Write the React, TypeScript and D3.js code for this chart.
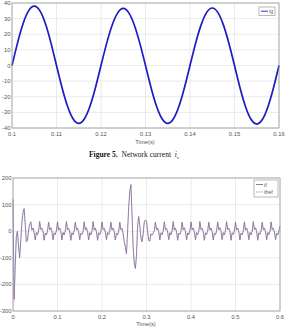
import React from "react";
import * as d3 from "d3";

// ---- Top chart data (network current) ----
const topStart = 0.1;
const topStep = 0.00125;
const igValues = [
  0, 14.5, 26.9, 35.1, 38, 35.1, 26.9, 14.5,
  0, -14.2, -26.2, -34.2, -37, -34.2, -26.2, -14.2,
  0, 14, 25.8, 33.7, 36.5, 33.7, 25.8, 14,
  0, -14.2, -26.2, -34.2, -37, -34.2, -26.2, -14.2,
  0, 14.1, 26, 34, 36.8, 34, 26, 14.1,
  0, -14.4, -26.5, -34.6, -37.5, -34.6, -26.5, -14.4,
  0,
];
const topXTicks = [0.1, 0.11, 0.12, 0.13, 0.14, 0.15, 0.16];
const topYTicks = [-40, -30, -20, -10, 0, 10, 20, 30, 40];

// ---- Bottom chart data (if, ifref) ----
const botStep = 0.0025;
const ifValues = [
  120, -255, -130, -20, 0, -60, -100, -35, 30, 70, 85, 25, -40, -35, 5, 25,
  35, 4, 12, -3, -33, -5, -13, 1,
  36, 6, 11, -2, -34, -7, -14, 0,
  34, 5, 13, -1, -32, -6, -12, 2,
  35, 4, 12, -2, -33, -5, -14, 0,
  36, 6, 11, -3, -34, -6, -13, 1,
  34, 5, 12, -2, -32, -7, -12, 0,
  35, 5, 13, -1, -33, -5, -14, 2,
  36, 4, 12, -2, -34, -6, -13, 0,
  35, 6, 11, -3, -32, -5, -12, 1,
  34, 5, 12, -2, -33, -7, -14, 0,
  34, 5, 10, -10, -40, -60, -85, 0,
  90, 150, 175, 60, -60, -120, -140, -90,
  20, 55, 20, -25, -40, -10, 35, 42,
  38, 0, -35, -37, -10, -15, -8, 2,
  34, 5, 12, -2, -33, -6, -13, 0,
  35, 6, 11, -3, -32, -5, -14, 1,
  36, 4, 12, -2, -34, -7, -12, 0,
  34, 5, 13, -1, -33, -6, -13, 2,
  35, 5, 12, -2, -32, -5, -14, 0,
  36, 6, 11, -3, -34, -6, -12, 1,
  34, 4, 12, -2, -33, -7, -13, 0,
  35, 5, 13, -1, -32, -5, -14, 2,
  36, 6, 12, -2, -34, -6, -12, 0,
  34, 5, 11, -3, -33, -7, -13, 1,
  35, 4, 12, -2, -32, -5, -14, 0,
  36, 6, 13, -1, -34, -6, -12, 2,
  34, 5, 12, -2, -33, -5, -13, 0,
  35, 6, 11, -3, -32, -7, -14, 1,
  20,
];
const ifrefStart = [-200, -270, -120, -20, 0, -50, -80, -20, 50, 70, 80, 25];
const ifrefValues = ifrefStart.concat(ifValues.slice(ifrefStart.length));
const botXTicks = [0, 0.1, 0.2, 0.3, 0.4, 0.5, 0.6];
const botYTicks = [-300, -200, -100, 0, 100, 200];

const tickFont = "'Liberation Sans', Arial, sans-serif";

function fmt(v: number) {
  return String(+v.toFixed(3));
}

export default function App() {
  // Top chart geometry
  const tL = 12, tR = 279, tT = 3, tB = 128;
  const tx = d3.scaleLinear().domain([0.1, 0.16]).range([tL, tR]);
  const ty = d3.scaleLinear().domain([-40, 40]).range([tB, tT]);
  const topLine = d3
    .line<number>()
    .x((_, i) => tx(topStart + i * topStep))
    .y((d) => ty(d))
    .curve(d3.curveNatural);

  // Bottom chart geometry
  const bL = 13, bR = 280, bT = 178, bB = 311;
  const bx = d3.scaleLinear().domain([0, 0.6]).range([bL, bR]);
  const by = d3.scaleLinear().domain([-300, 200]).range([bB, bT]);
  const botLine = d3
    .line<number>()
    .x((_, i) => bx(i * botStep))
    .y((d) => by(d))
    .curve(d3.curveLinear);

  const grid = "#e4e4e4";
  const axisC = "#9a9a9a";
  const labC = "#555";

  return (
    <svg
      width={287}
      height={329}
      style={{ position: "absolute", left: 0, top: 0, background: "#fff" }}
      fontFamily={tickFont}
    >
      {/* ---------- Top chart ---------- */}
      <rect x={tL} y={tT} width={tR - tL} height={tB - tT} fill="#fff" />
      {topXTicks.map((t) => (
        <line key={"tgx" + t} x1={tx(t)} x2={tx(t)} y1={tT} y2={tB} stroke={grid} strokeWidth={0.8} />
      ))}
      {topYTicks.map((t) => (
        <line key={"tgy" + t} x1={tL} x2={tR} y1={ty(t)} y2={ty(t)} stroke={grid} strokeWidth={0.8} />
      ))}
      <path d={topLine(igValues) || ""} fill="none" stroke="#1c1cc4" strokeWidth={1.7} />
      <rect x={tL} y={tT} width={tR - tL} height={tB - tT} fill="none" stroke={axisC} strokeWidth={0.8} />
      {topYTicks.map((t) => (
        <text key={"tyl" + t} x={tL - 1.5} y={ty(t)} dy="0.35em" fontSize={5.8} fill={labC} textAnchor="end">
          {t}
        </text>
      ))}
      {topXTicks.map((t) => (
        <text key={"txl" + t} x={tx(t)} y={tB + 8} fontSize={5.8} fill={labC} textAnchor="middle">
          {fmt(t)}
        </text>
      ))}
      <text x={145} y={144} fontSize={5.8} fill={labC} textAnchor="middle">Time(s)</text>
      {/* top legend */}
      <rect x={259} y={7} width={16} height={8.5} fill="#fff" stroke={axisC} strokeWidth={0.7} />
      <line x1={261} x2={268} y1={11.2} y2={11.2} stroke="#1c1cc4" strokeWidth={0.9} />
      <text x={269} y={13.2} fontSize={5.2} fill={labC}>ig</text>

      {/* ---------- Caption ---------- */}
      <text x={89} y={157} fontFamily="'Liberation Serif', 'Times New Roman', serif" fontSize={7.5} fill="#111">
        <tspan fontWeight="bold">Figure 5.</tspan>
        <tspan dx={4}>Network current </tspan>
        <tspan dx={2} fontStyle="italic">i</tspan>
        <tspan fontSize={4.5} dy={1.8}>s</tspan>
      </text>

      {/* ---------- Bottom chart ---------- */}
      <rect x={bL} y={bT} width={bR - bL} height={bB - bT} fill="#fff" />
      {botXTicks.map((t) => (
        <line key={"bgx" + t} x1={bx(t)} x2={bx(t)} y1={bT} y2={bB} stroke={grid} strokeWidth={0.8} />
      ))}
      {botYTicks.map((t) => (
        <line key={"bgy" + t} x1={bL} x2={bR} y1={by(t)} y2={by(t)} stroke={grid} strokeWidth={0.8} />
      ))}
      <path d={botLine(ifValues) || ""} fill="none" stroke="#6a72a4" strokeWidth={0.85} />
      <path
        d={botLine(ifrefValues) || ""}
        fill="none"
        stroke="#e0607a"
        strokeWidth={0.6}
        strokeDasharray="2,1.5"
        strokeOpacity={0.6}
      />
      <rect x={bL} y={bT} width={bR - bL} height={bB - bT} fill="none" stroke={axisC} strokeWidth={0.8} />
      {botYTicks.map((t) => (
        <text key={"byl" + t} x={bL - 1.5} y={by(t)} dy="0.35em" fontSize={5.8} fill={labC} textAnchor="end">
          {t}
        </text>
      ))}
      {botXTicks.map((t) => (
        <text key={"bxl" + t} x={bx(t)} y={bB + 7.5} fontSize={5.8} fill={labC} textAnchor="middle">
          {fmt(t)}
        </text>
      ))}
      <text x={146} y={326} fontSize={5.8} fill={labC} textAnchor="middle">Time(s)</text>
      {/* bottom legend */}
      <rect x={254} y={180} width={24} height={17} fill="#fff" stroke={axisC} strokeWidth={0.7} />
      <line x1={256} x2={263} y1={184.5} y2={184.5} stroke="#6a72a4" strokeWidth={0.9} />
      <text x={264} y={186.5} fontSize={5.2} fill={labC}>if</text>
      <line x1={256} x2={263} y1={192} y2={192} stroke="#e0607a" strokeWidth={0.8} strokeDasharray="1.5,1" />
      <text x={264} y={194} fontSize={5.2} fill={labC}>ifref</text>
    </svg>
  );
}
